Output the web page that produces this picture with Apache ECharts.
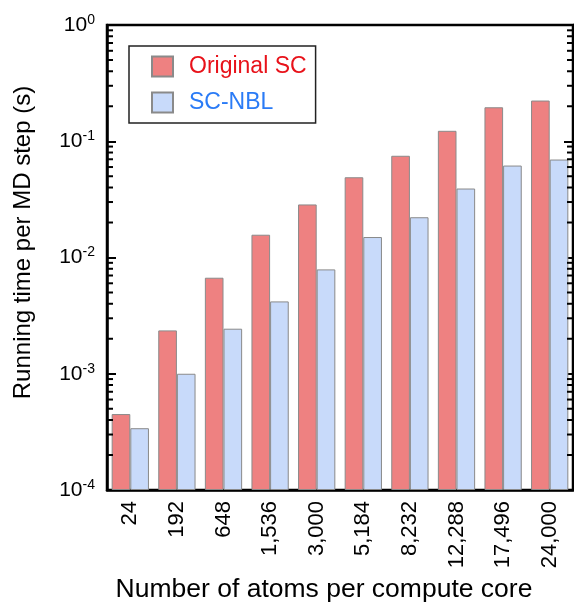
<!DOCTYPE html>
<html>
<head>
<meta charset="utf-8">
<title>Running time per MD step</title>
<script src="https://cdn.jsdelivr.net/npm/echarts@6/dist/echarts.min.js"></script>
<style>
  html, body { margin: 0; padding: 0; background: #fff; }
  #chart { width: 574px; height: 604px; }
</style>
</head>
<body>
<div id="chart"></div>
<script>
// atoms per compute core
var categories = ["24", "192", "648", "1,536", "3,000", "5,184", "8,232", "12,288", "17,496", "24,000"];
// running time per MD step (s)
var originalSC = [4.5e-4, 2.36e-3, 6.7e-3, 1.57e-2, 2.86e-2, 4.9e-2, 7.5e-2, 0.123, 0.196, 0.224];
var scNBL = [3.4e-4, 1.0e-3, 2.44e-3, 4.19e-3, 7.9e-3, 1.5e-2, 2.22e-2, 3.92e-2, 6.18e-2, 6.96e-2];
var yMin = 1e-4;
var yMax = 1;

var font = "Liberation Sans, Arial, Helvetica, sans-serif";

// minor ticks 2..9 of every decade
var minorTicks = [];
for (var e = -4; e < 0; e++) {
  for (var m = 2; m <= 9; m++) {
    minorTicks.push([0, m * Math.pow(10, e)]);
  }
}

function powLabel(v) {
  var p = Math.round(Math.log10(v));
  return "{b|10}{s|" + p + "}";
}

var logAxis = {
  type: "log",
  logBase: 10,
  min: yMin,
  max: yMax,
  startValue: yMin,
  splitLine: { show: false },
  axisLine: { show: true, lineStyle: { color: "#000", width: 2.5 } },
  axisTick: { show: true, inside: true, length: 9, lineStyle: { color: "#000", width: 2 } }
};

var chart = echarts.init(document.getElementById("chart"));
chart.setOption({
  animation: false,
  textStyle: { fontFamily: font },
  grid: {
    left: 107,
    right: 1,
    top: 25,
    bottom: 114,
    outerBoundsMode: "none",
    show: true,
    borderColor: "#000",
    borderWidth: 2.5
  },
  legend: {
    orient: "vertical",
    left: 129,
    top: 46,
    padding: [9, 9, 9, 22],
    itemGap: 13,
    itemWidth: 21,
    itemHeight: 20,
    icon: "rect",
    borderColor: "#222",
    borderWidth: 1.5,
    textStyle: { fontSize: 23, fontFamily: font, padding: [0, 0, 0, 11] },
    data: [
      { name: "Original SC", textStyle: { color: "#e8121a" } },
      { name: "SC-NBL", textStyle: { color: "#2a7bf6" } }
    ]
  },
  xAxis: {
    type: "category",
    data: categories,
    name: "Number of atoms per compute core",
    nameLocation: "middle",
    nameGap: 84,
    nameTextStyle: { fontSize: 26.5, color: "#000", fontFamily: font, padding: [0, 32, 0, 0] },
    axisLine: { lineStyle: { color: "#000", width: 2.5 } },
    axisTick: { show: false },
    axisLabel: {
      interval: 0,
      rotate: 90,
      margin: 11,
      fontSize: 22,
      color: "#000",
      fontFamily: font
    }
  },
  yAxis: [
    Object.assign({}, logAxis, {
      position: "left",
      name: "Running time per MD step (s)",
      nameLocation: "middle",
      nameGap: 72,
      nameTextStyle: { fontSize: 24, color: "#000", fontFamily: font, padding: [0, 0, 0, 30] },
      axisLabel: {
        margin: 12,
        formatter: powLabel,
        rich: {
          b: { fontSize: 21, color: "#000", fontFamily: font },
          s: { fontSize: 14, color: "#000", fontFamily: font, padding: [0, 0, 10, 0] }
        }
      }
    }),
    Object.assign({}, logAxis, {
      position: "right",
      axisLabel: { show: false }
    })
  ],
  series: [
    {
      name: "Original SC",
      type: "bar",
      data: originalSC,
      barGap: "0%",
      barCategoryGap: "20%",
      itemStyle: { color: "#ee8181", borderColor: "#8a8a8a", borderWidth: 1 }
    },
    {
      name: "SC-NBL",
      type: "bar",
      data: scNBL,
      barGap: "0%",
      barCategoryGap: "20%",
      itemStyle: { color: "#c8dafa", borderColor: "#8a8a8a", borderWidth: 1 }
    },
    {
      // log minor ticks on both frame sides
      type: "custom",
      z: 10,
      silent: true,
      clip: false,
      data: minorTicks,
      encode: { x: 0, y: 1 },
      renderItem: function (params, api) {
        var y = api.coord([0, api.value(1)])[1];
        var x0 = params.coordSys.x;
        var x1 = x0 + params.coordSys.width;
        var style = { stroke: "#000", lineWidth: 2 };
        return {
          type: "group",
          children: [
            { type: "line", shape: { x1: x0, y1: y, x2: x0 + 6, y2: y }, style: style },
            { type: "line", shape: { x1: x1, y1: y, x2: x1 - 6, y2: y }, style: style }
          ]
        };
      }
    }
  ]
});
</script>
</body>
</html>
